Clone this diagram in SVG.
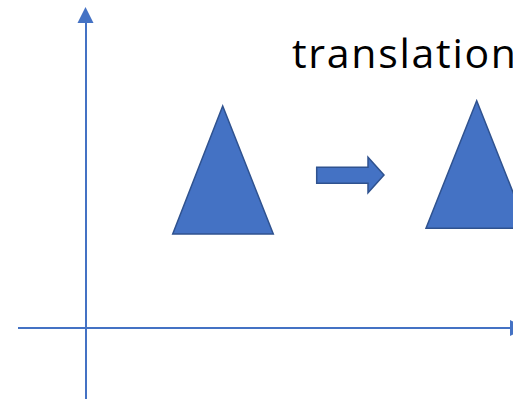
<svg xmlns="http://www.w3.org/2000/svg" width="513" height="399" viewBox="0 0 513 399">
<style>
.axis{stroke:#4472C4;stroke-width:2;fill:none}
.head{fill:#4472C4}
.shape{fill:#4472C4;stroke:#2F528F;stroke-width:1.5;stroke-linejoin:miter}
.lbl{font-family:"Open Sans","Noto Sans","Liberation Sans",sans-serif;font-size:41px;fill:#000}
</style>
<g id="connectors">
<line class="axis" x1="86" y1="399" x2="86" y2="20"/>
<polygon class="head" points="85.5,7 77.5,23 93.5,23"/>
<line class="axis" x1="18" y1="328" x2="513" y2="328"/>
<polygon class="head" points="525,328 510,320 510,336"/>
</g>
<g id="triangle1">
<polygon class="shape" points="222.7,106 273.3,234 172.7,234"/>
</g>
<g id="arrow">
<polygon class="shape" points="316.7,167.3 368,167.3 368,157.3 384,175 368,192.7 368,183.3 316.7,183.3"/>
</g>
<g id="triangle2">
<polygon class="shape" points="476.7,100.7 527.3,228.3 426,228.3"/>
</g>
<g id="label">
<text class="lbl" x="292" y="68" textLength="224" lengthAdjust="spacing">translation</text>
</g>
</svg>
